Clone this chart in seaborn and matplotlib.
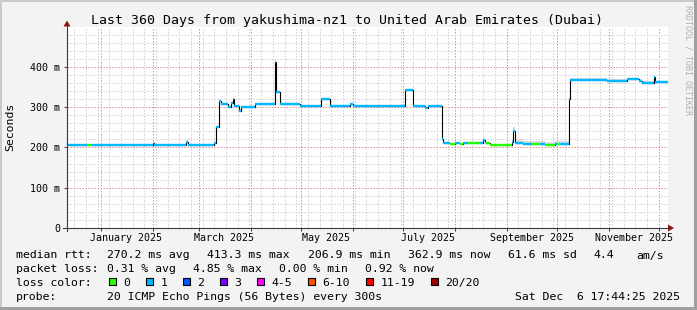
import numpy as np
import pandas as pd
import matplotlib
matplotlib.use("Agg")
import matplotlib.pyplot as plt
import matplotlib.dates as mdates
from matplotlib.ticker import MultipleLocator, NullFormatter
from matplotlib.lines import Line2D
from matplotlib.patches import Polygon, Rectangle
import seaborn as sns

# ---------------- data ----------------
title = "Last 360 Days from yakushima-nz1 to United Arab Emirates (Dubai)"
start_time = "2024-12-11 17:44:25"
end_time = "2025-12-06 17:44:25"

seg_start = [
    "2024-12-11 17:44:25", "2024-12-24", "2024-12-27", "2025-02-01", "2025-02-02",
    "2025-02-21", "2025-02-22", "2025-03-10", "2025-03-11", "2025-03-12 12:00",
    "2025-03-14", "2025-03-18", "2025-03-20", "2025-03-21", "2025-03-22",
    "2025-03-25", "2025-03-26", "2025-04-03", "2025-04-15", "2025-04-16",
    "2025-04-18", "2025-04-30", "2025-05-13", "2025-05-18", "2025-05-30",
    "2025-06-01", "2025-07-02", "2025-07-07", "2025-07-14", "2025-07-16",
    "2025-07-24", "2025-07-25", "2025-07-29", "2025-08-01", "2025-08-04",
    "2025-08-06", "2025-08-09", "2025-08-16", "2025-08-18", "2025-08-19",
    "2025-08-22", "2025-09-04", "2025-09-05", "2025-09-06", "2025-09-11",
    "2025-09-16", "2025-09-21", "2025-09-24", "2025-09-30", "2025-10-01",
    "2025-10-03", "2025-10-08", "2025-10-09", "2025-10-31", "2025-11-12",
    "2025-11-19", "2025-11-21", "2025-11-28", "2025-11-29",
]
median_ms = [
    207, 207, 207, 210, 207, 213, 207, 212, 250, 316,
    308, 301, 310, 320, 303, 290, 301, 308, 413, 339,
    307, 303, 320, 302, 307, 302, 342, 303, 298, 302,
    222, 210, 209, 210, 209, 210, 211, 210, 218, 210,
    207, 213, 240, 212, 209, 208, 209, 207, 209, 208,
    209, 320, 368, 366, 370, 366, 360, 375, 363,
]
loss_idx = [
    1, 0, 1, 1, 1, 1, 1, 1, 1, 1,
    1, 1, 1, 1, 1, 1, 1, 1, 1, 1,
    1, 1, 1, 1, 1, 1, 1, 1, 1, 1,
    1, 1, 0, 1, 0, 1, 0, 1, 1, 0,
    0, 1, 1, 1, 1, 0, 1, 0, 1, 0,
    1, 1, 1, 1, 1, 1, 1, 1, 1,
]
smoke_top_ms = [
    207, 207, 207, 210, 207, 213, 207, 212, 250, 316,
    308, 301, 310, 320, 303, 290, 301, 308, 413, 339,
    307, 303, 320, 302, 307, 305, 342, 305, 298, 305,
    222, 210, 209, 210, 209, 210, 211, 210, 218, 210,
    207, 222, 252, 220, 216, 215, 216, 214, 216, 215,
    216, 320, 372, 370, 373, 369, 364, 376, 366,
]

loss_labels = ["0", "1", "2", "3", "4-5", "6-10", "11-19", "20/20"]
loss_colors = ["#26ff00", "#00b8ff", "#0059ff", "#7e00ff",
               "#ff00ff", "#ff5500", "#ff0000", "#a10000"]

y_tick_values = [0, 100, 200, 300, 400]
y_tick_labels = ["0", "100 m", "200 m", "300 m", "400 m"]
x_label_dates = ["2025-01-16", "2025-03-16", "2025-05-16",
                 "2025-07-16", "2025-09-16", "2025-11-16"]
x_label_texts = ["January 2025", "March 2025", "May 2025",
                 "July 2025", "September 2025", "November 2025"]

rtt_parts = ["median rtt:", "270.2 ms avg", "413.3 ms max", "206.9 ms min",
             "362.9 ms now", "61.6 ms sd", "4.4", "am/s"]
pl_parts = ["packet loss:", "0.31 % avg", "4.85 % max", "0.00 % min", "0.92 % now"]
probe_parts = ["probe:", "20 ICMP Echo Pings (56 Bytes) every 300s"]
stamp = "Sat Dec  6 17:44:25 2025"
watermark = "RRDTOOL / TOBI OETIKER"

# ---------------- layout ----------------
W, H = 697, 310
MONO = "DejaVu Sans Mono"
plt.rcParams["font.family"] = [MONO, "DejaVu Sans"]

def fx(px):
    return px / W

def fy(py):
    return 1 - py / H

fig = plt.figure(figsize=(W / 100, H / 100), dpi=100)
fig.patch.set_facecolor("#f3f3f3")

# frame shading
fig.add_artist(Rectangle((0, fy(2)), 1, 2 / H, transform=fig.transFigure, color="#cbcbcb", lw=0))
fig.add_artist(Rectangle((0, 0), 2 / W, 1, transform=fig.transFigure, color="#cbcbcb", lw=0))
fig.add_artist(Rectangle((0, 0), 1, 3 / H, transform=fig.transFigure, color="#9f9f9f", lw=0))
fig.add_artist(Rectangle((fx(W - 3), 0), 3 / W, 1, transform=fig.transFigure, color="#9f9f9f", lw=0))

PL, PR, PT, PB = 67, 668.3, 27.3, 228
ax = fig.add_axes([fx(PL), fy(PB), (PR - PL) / W, (PB - PT) / H])
ax.set_facecolor("white")

t = pd.to_datetime(seg_start + [end_time], format="mixed")
med_ext = median_ms + [median_ms[-1]]
smoke_ext = smoke_top_ms + [smoke_top_ms[-1]]
df = pd.DataFrame({"time": t, "median": med_ext})

# smoke
ax.fill_between(t, med_ext, smoke_ext, step="post", color="#dcdcdc", lw=0, zorder=2)
# black median step line
sns.lineplot(data=df, x="time", y="median", drawstyle="steps-post", color="black",
             lw=0.8, ax=ax, zorder=3, legend=False)
# loss-coloured median segments
tn = mdates.date2num(t)
for i in range(len(seg_start)):
    ax.hlines(median_ms[i], tn[i], tn[i + 1], colors=loss_colors[loss_idx[i]],
              lw=1.7, zorder=4, capstyle="butt")

ax.set_xlim(pd.Timestamp(start_time), pd.Timestamp(end_time))
ax.set_ylim(0, 498.6)
ax.set_xlabel("")
ax.set_ylabel("")

ax.xaxis.set_major_locator(mdates.MonthLocator())
ax.xaxis.set_minor_locator(mdates.WeekdayLocator(byweekday=mdates.MO))
ax.xaxis.set_major_formatter(NullFormatter())
ax.set_yticks(y_tick_values, y_tick_labels)
ax.yaxis.set_minor_locator(MultipleLocator(20))

ax.set_axisbelow(True)
ax.grid(which="minor", color="#d2d2d2", lw=0.72, ls=(0, (1.5, 1.5)))
ax.grid(which="major", color="#ea9090", lw=0.72, ls=(0, (1.5, 1.5)))
ax.tick_params(which="minor", length=0)
ax.tick_params(which="major", length=2.2, width=0.72, color="#404040",
               labelsize=7.2, pad=2.5)
for lab in ax.get_yticklabels():
    lab.set_fontfamily(MONO)
for s in ax.spines.values():
    s.set_visible(False)

# x labels at mid-month
for d, txt in zip(x_label_dates, x_label_texts):
    ax.text(mdates.date2num(pd.Timestamp(d)), -5 / (PB - PT),
            txt, transform=ax.get_xaxis_transform(), ha="center", va="top",
            fontsize=7.2, family=MONO)

# axes lines with arrows
axis_c = "#3a3a3a"
arrow_c = "#8b1414"
fig.add_artist(Line2D([fx(67), fx(67)], [fy(231), fy(25)], transform=fig.transFigure,
                      color=axis_c, lw=0.8))
fig.add_artist(Line2D([fx(63), fx(669)], [fy(228), fy(228)], transform=fig.transFigure,
                      color=axis_c, lw=0.8))
fig.add_artist(Polygon([[fx(63.5), fy(26.5)], [fx(70.5), fy(26.5)], [fx(67), fy(20.5)]],
                       closed=True, transform=fig.transFigure, color=arrow_c, lw=0))
fig.add_artist(Polygon([[fx(668), fy(224.5)], [fx(668), fy(231.5)], [fx(674), fy(228)]],
                       closed=True, transform=fig.transFigure, color=arrow_c, lw=0))

# title, y label, watermark
fig.text(fx(347.2), fy(24), title, ha="center", va="baseline", fontsize=9.5, family=MONO)
fig.text(fx(10.5), fy(127), "Seconds", ha="center", va="center", rotation=90,
         fontsize=8.25, family=MONO)
fig.text(fx(688), fy(60), watermark, ha="center", va="center", rotation=270,
         fontsize=6, family=MONO, color="#b0b0b0")

# info lines
FS = 8.25
rtt_x = [16, 107.3, 207.3, 307.7, 407.7, 507.7, 593.3, 636]
for s, x in zip(rtt_parts, rtt_x):
    fig.text(fx(x), fy(258.5), s, ha="left", va="baseline", fontsize=FS, family=MONO)
pl_x = [16, 107.3, 193.3, 279.3, 365]
for s, x in zip(pl_parts, pl_x):
    fig.text(fx(x), fy(272), s, ha="left", va="baseline", fontsize=FS, family=MONO)
fig.text(fx(16), fy(286), "loss color:", ha="left", va="baseline", fontsize=FS, family=MONO)
bx = 109
for lab, col in zip(loss_labels, loss_colors):
    fig.add_artist(Rectangle((fx(bx), fy(285.3)), 7 / W, 7 / H, transform=fig.transFigure,
                             facecolor=col, edgecolor="black", lw=0.8))
    fig.text(fx(bx + 14.3), fy(286), lab, ha="left", va="baseline", fontsize=FS, family=MONO)
    bx += 30 + 7.0 * len(lab)
for s, x in zip(probe_parts, [16, 107.3]):
    fig.text(fx(x), fy(299.5), s, ha="left", va="baseline", fontsize=FS, family=MONO)
fig.text(fx(680), fy(299.5), stamp, ha="right", va="baseline", fontsize=FS, family=MONO)

fig.savefig("out.png", dpi=100, facecolor=fig.get_facecolor())
